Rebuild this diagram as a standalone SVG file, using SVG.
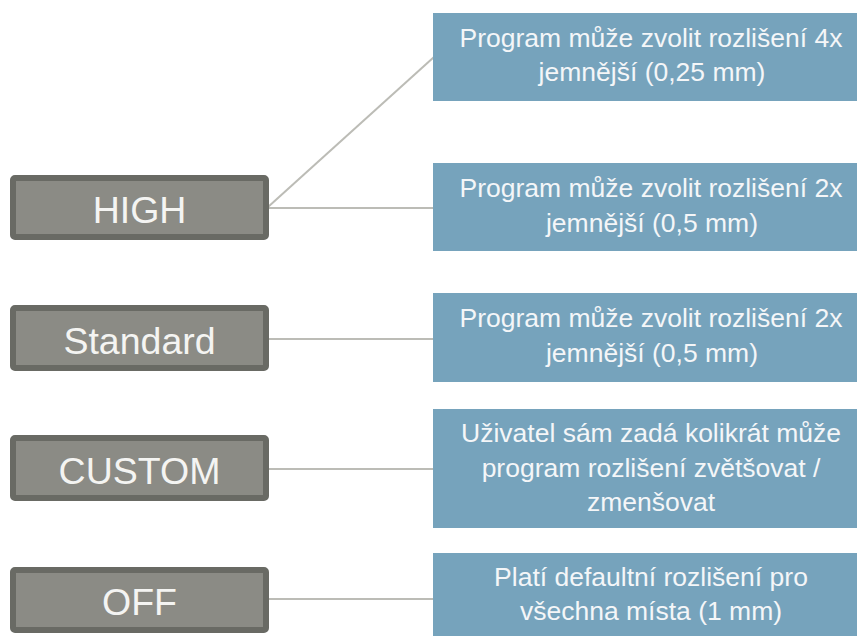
<svg xmlns="http://www.w3.org/2000/svg" width="857" height="636" viewBox="0 0 857 636">
<style>
.mode rect{fill:#8b8b85;stroke:#696a64;stroke-width:6;}
.mode text{font-family:"Liberation Sans",Arial,sans-serif;font-size:37.5px;fill:#f4f4f2;text-anchor:middle;}
.desc rect{fill:#76a3bc;}
.desc text{font-family:"Liberation Sans",Arial,sans-serif;font-size:26.5px;fill:#f4f6f8;text-anchor:middle;}
.conn line{stroke:#bcbcb6;stroke-width:2;}
</style>
<rect width="857" height="636" fill="#ffffff"/>
<g id="connectors" class="conn">
<line x1="268" y1="207" x2="434" y2="57"/>
<line x1="268" y1="208" x2="434" y2="208"/>
<line x1="268" y1="339" x2="434" y2="339"/>
<line x1="268" y1="469" x2="434" y2="469"/>
<line x1="268" y1="599" x2="434" y2="599"/>
</g>
<g id="high" class="mode"><rect x="13" y="178" width="253" height="59" rx="2"/><text x="139.5" y="223">HIGH</text></g>
<g id="standard" class="mode"><rect x="13" y="308" width="253" height="60" rx="2"/><text x="139.5" y="354">Standard</text></g>
<g id="custom" class="mode"><rect x="13" y="438" width="253" height="60" rx="2"/><text x="139.5" y="484">CUSTOM</text></g>
<g id="off" class="mode"><rect x="13" y="570" width="253" height="60" rx="2"/><text x="139.5" y="615">OFF</text></g>
<g id="d1" class="desc"><rect x="433" y="13" width="440" height="88"/><text x="651" y="46.5">Program může zvolit rozlišení 4x</text><text x="652" y="81">jemnější (0,25 mm)</text></g>
<g id="d2" class="desc"><rect x="433" y="163" width="440" height="88"/><text x="651" y="197">Program může zvolit rozlišení 2x</text><text x="652" y="231.5">jemnější (0,5 mm)</text></g>
<g id="d3" class="desc"><rect x="433" y="293" width="440" height="89"/><text x="651" y="327">Program může zvolit rozlišení 2x</text><text x="652" y="361.5">jemnější (0,5 mm)</text></g>
<g id="d4" class="desc"><rect x="433" y="409" width="440" height="119"/><text x="651" y="442">Uživatel sám zadá kolikrát může</text><text x="651" y="476.5">program rozlišení zvětšovat /</text><text x="651" y="511">zmenšovat</text></g>
<g id="d5" class="desc"><rect x="433" y="553" width="440" height="89"/><text x="651" y="586">Platí defaultní rozlišení pro</text><text x="651" y="620">všechna místa (1 mm)</text></g>
</svg>
